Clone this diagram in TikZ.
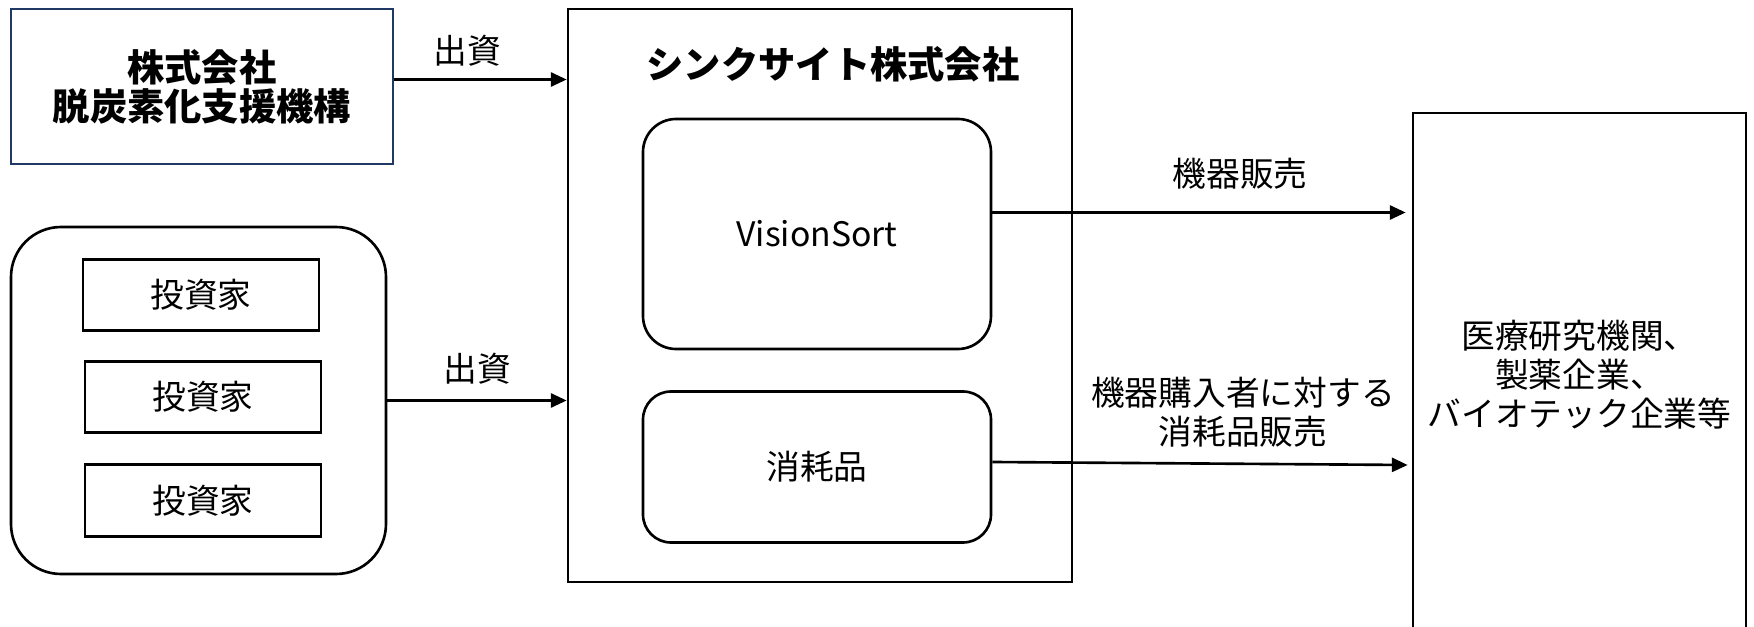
\documentclass[tikz,border=0pt]{standalone}
\usepackage{fontspec}
\setmainfont{Noto Sans CJK JP}
\usepackage{xcolor}
\usepackage{tikz}
\usetikzlibrary{arrows.meta,positioning,calc}

\definecolor{navy}{RGB}{32,56,100}

\begin{document}
\begin{tikzpicture}[
  >={Triangle[length=4.5pt,width=4pt]},
  x=1cm,
  y=1cm,
  line width=0.75pt,
  plainbox/.style={draw=black,rectangle,inner sep=0pt,align=center},
  roundbox/.style={draw=black,rectangle,rounded corners=0.33cm,inner sep=0pt,align=center},
  bodytxt/.style={font=\fontsize{9.6}{11.1}\selectfont,align=center},
  headtxt/.style={font=\bfseries\fontsize{10.6}{11.1}\selectfont,align=center},
  flow/.style={->,line width=0.75pt}
]
  \useasboundingbox (0,0) rectangle (17.54,6.26);

  % funders
  \node[plainbox,draw=navy,minimum width=3.82cm,minimum height=1.55cm,headtxt]
    (jicn) at (2.02,5.395) {株式会社\\脱炭素化支援機構};
  \node[roundbox,rounded corners=0.5cm,minimum width=3.75cm,minimum height=3.47cm]
    (investors) at (1.985,2.255) {};
  \node[plainbox,minimum width=2.36cm,minimum height=0.715cm,bodytxt]
    (inv1) at (2.01,3.31) {投資家};
  \node[plainbox,minimum width=2.36cm,minimum height=0.715cm,bodytxt]
    (inv2) at (2.03,2.29) {投資家};
  \node[plainbox,minimum width=2.36cm,minimum height=0.715cm,bodytxt]
    (inv3) at (2.03,1.255) {投資家};

  % company
  \node[plainbox,minimum width=5.04cm,minimum height=5.73cm]
    (sync) at (8.20,3.305) {};
  \node[headtxt] (synctitle) at (8.33,5.62) {シンクサイト株式会社};
  \node[roundbox,minimum width=3.48cm,minimum height=2.30cm,bodytxt]
    (vsort) at (8.17,3.92) {VisionSort};
  \node[roundbox,rounded corners=0.28cm,minimum width=3.48cm,minimum height=1.51cm,bodytxt]
    (supply) at (8.17,1.59) {消耗品};

  % customers
  \node[plainbox,minimum width=3.33cm,minimum height=5.23cm,bodytxt]
    (clients) at (15.795,2.515) {医療研究機関、\\製薬企業、\\バイオテック企業等};

  \draw[flow] ([yshift=0.07cm]jicn.east) -- node[above=0pt,xshift=-0.13cm,bodytxt] {出資}
    ([yshift=0.07cm]jicn.east -| sync.west);
  \draw[flow] (investors.east) -- node[above=1pt,bodytxt] {出資}
    (investors.east -| sync.west);
  \draw[flow] ([yshift=0.215cm]vsort.east) -- node[above=3pt,xshift=0.41cm,bodytxt] {機器販売}
    ([xshift=-0.06cm,yshift=0.215cm]vsort.east -| clients.west);
  \draw[flow] ([yshift=0.05cm]supply.east) -- node[above=1pt,xshift=0.43cm,bodytxt]
    {機器購入者に対する\\消耗品販売}
    ([xshift=-0.04cm,yshift=0.02cm]supply.east -| clients.west);
\end{tikzpicture}
\end{document}
